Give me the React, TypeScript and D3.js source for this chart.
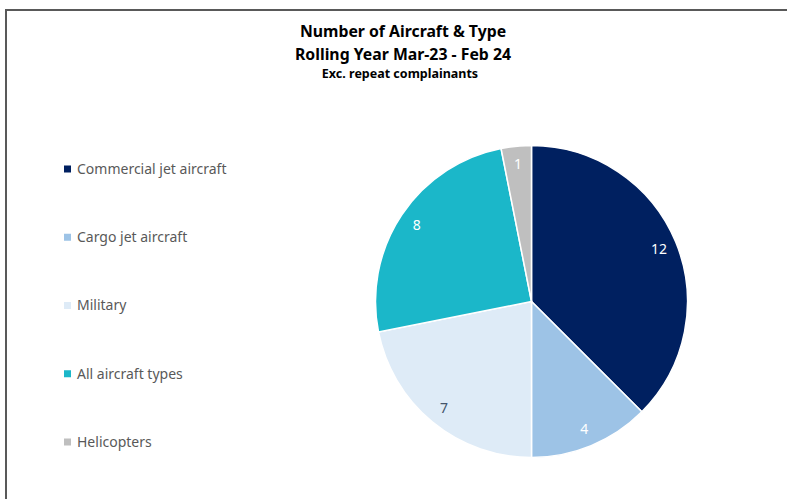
import React, { useEffect, useRef } from 'react';
import * as d3 from 'd3';

const categories = ['Commercial jet aircraft', 'Cargo jet aircraft', 'Military', 'All aircraft types', 'Helicopters'];
const counts = [12, 4, 7, 8, 1];
const sliceColors = ['#002060', '#9DC3E6', '#DEEBF7', '#1BB7C9', '#BFBFBF'];
const labelColors = ['#ffffff', '#ffffff', '#44546A', '#ffffff', '#ffffff'];
const titleLines = ['Number of Aircraft & Type', 'Rolling Year Mar-23 - Feb 24'];
const subtitle = 'Exc. repeat complainants';

interface Slice {
  name: string;
  value: number;
  color: string;
  labelColor: string;
}

const width = 787;
const height = 499;

export default function App() {
  const svgRef = useRef<SVGSVGElement>(null);

  useEffect(() => {
    if (!svgRef.current) return;
    const root = d3.select(svgRef.current);
    root.selectAll('*').remove();

    const font = "'Noto Sans', 'Open Sans', sans-serif";

    root.append('rect')
      .attr('width', width)
      .attr('height', height)
      .attr('fill', '#ffffff');

    // frame (top and left edges visible)
    root.append('path')
      .attr('d', `M6,${height} V10 H${width}`)
      .attr('fill', 'none')
      .attr('stroke', '#595959')
      .attr('stroke-width', 2);

    // Titles
    const titleG = root.append('g').attr('font-family', font).attr('font-weight', 700)
      .attr('text-anchor', 'middle').attr('fill', '#000');
    titleLines.forEach((t, i) => {
      titleG.append('text')
        .attr('x', 403)
        .attr('y', 37 + i * 23)
        .attr('font-size', 15.8)
        .text(t);
    });
    titleG.append('text')
      .attr('x', 400)
      .attr('y', 78)
      .attr('font-size', 12.5)
      .text(subtitle);

    const data: Slice[] = categories.map((name, i) => ({
      name,
      value: counts[i],
      color: sliceColors[i],
      labelColor: labelColors[i],
    }));

    // Pie
    const cx = 531.5;
    const cy = 301.5;
    const radius = 156;

    const pie = d3.pie<Slice>().value(d => d.value).sort(null);
    const arc = d3.arc<d3.PieArcDatum<Slice>>().innerRadius(0).outerRadius(radius);
    const labelArc = d3.arc<d3.PieArcDatum<Slice>>().innerRadius(radius * 0.885).outerRadius(radius * 0.885);

    const g = root.append('g').attr('transform', `translate(${cx},${cy})`);
    const arcs = pie(data);

    g.selectAll('path.slice')
      .data(arcs)
      .enter()
      .append('path')
      .attr('class', 'slice')
      .attr('d', arc)
      .attr('fill', d => d.data.color)
      .attr('stroke', '#ffffff')
      .attr('stroke-width', 1.5);

    g.selectAll('text.lbl')
      .data(arcs)
      .enter()
      .append('text')
      .attr('class', 'lbl')
      .attr('transform', d => `translate(${labelArc.centroid(d)})`)
      .attr('text-anchor', 'middle')
      .attr('dy', '0.35em')
      .attr('font-family', font)
      .attr('font-size', 14)
      .attr('fill', d => d.data.labelColor)
      .text(d => d.data.value);

    // Legend
    const legendY = d3.scalePoint<string>()
      .domain(categories)
      .range([169, 442]);

    const legend = root.append('g').attr('font-family', font);
    const items = legend.selectAll('g.item')
      .data(data)
      .enter()
      .append('g')
      .attr('class', 'item')
      .attr('transform', d => `translate(64,${legendY(d.name)})`);

    items.append('rect')
      .attr('x', 0)
      .attr('y', -3.5)
      .attr('width', 7)
      .attr('height', 7)
      .attr('fill', d => d.color);

    items.append('text')
      .attr('x', 13)
      .attr('dy', '0.35em')
      .attr('font-size', 14)
      .attr('fill', '#595959')
      .text(d => d.name);
  }, []);

  return (
    <svg
      ref={svgRef}
      width={width}
      height={height}
      style={{ position: 'absolute', top: 0, left: 0, display: 'block' }}
    />
  );
}
